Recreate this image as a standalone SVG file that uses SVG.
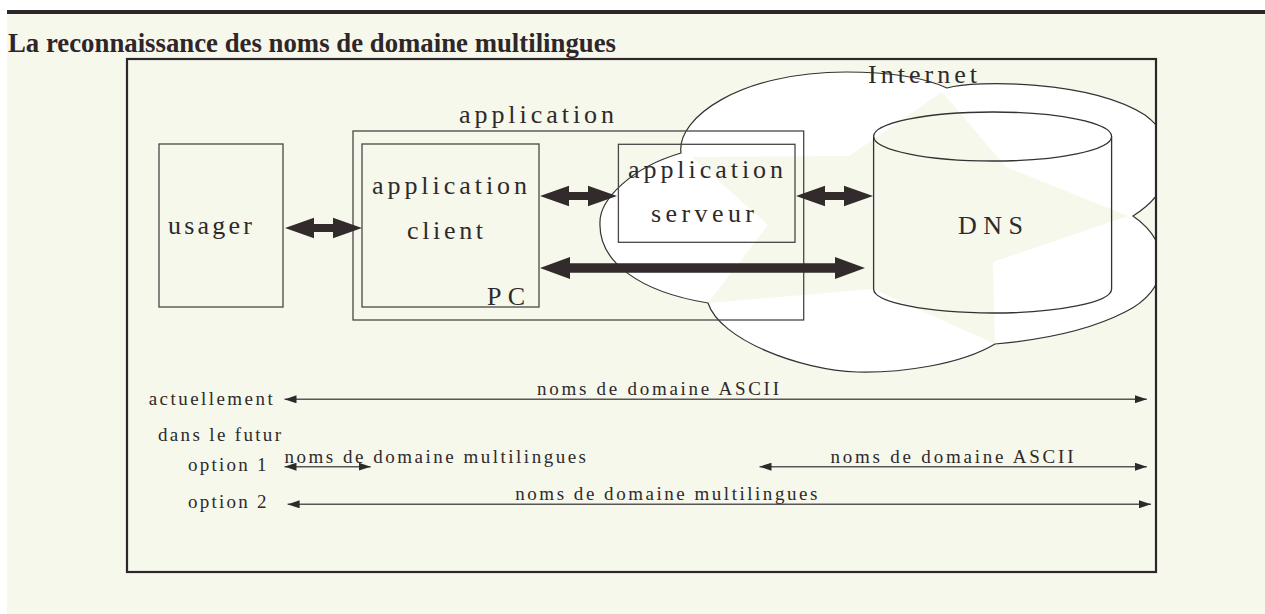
<svg xmlns="http://www.w3.org/2000/svg" width="1265" height="614" viewBox="0 0 1265 614">
<defs>
<style>
.lbl{font-family:"Liberation Serif","Times New Roman",serif;font-size:26px;fill:#2e2a2b}
.sm{font-family:"Liberation Serif","Times New Roman",serif;font-size:19px;fill:#2e2a2b}
.box{fill:none;stroke:#4a4546;stroke-width:1.3}
.thin{fill:none;stroke:#5a5556;stroke-width:1.6;marker-start:url(#ah);marker-end:url(#ah)}
.thick{fill:#332a2c}
</style>
<marker id="ah" viewBox="0 0 12 8" refX="12" refY="4" markerWidth="12" markerHeight="8" markerUnits="userSpaceOnUse" orient="auto-start-reverse">
<path d="M0,0 L12,4 L0,8 z" fill="#2e2a2b"/>
</marker>
<clipPath id="fr"><rect x="127" y="59" width="1029" height="513"/></clipPath>
</defs>
<rect x="0" y="0" width="1265" height="614" fill="#ffffff"/>
<rect x="7" y="14" width="1258" height="600" fill="#f6f8ec"/>
<rect x="7" y="10" width="1258" height="4" fill="#2e2628"/>
<text x="8" y="52" font-family="Liberation Serif, Times New Roman, serif" font-size="28" font-weight="bold" fill="#2e2628" textLength="608" lengthAdjust="spacingAndGlyphs">La reconnaissance des noms de domaine multilingues</text>

<g id="internet" clip-path="url(#fr)">
<path id="cloudfill" d="M681,153 C676,118 740,72 846,72 C890,72 925,78 947,88 C975,80 1090,80 1145,115 C1185,145 1175,190 1133,216 C1175,245 1170,290 1125,312 C1090,330 1040,340 995,344 C960,365 900,373 857,372 C800,370 720,340 708,303 C640,292 598,262 600,222 C600,200 630,168 681,153 Z" fill="#ffffff"/>
<polygon points="942,92 1006,167 1128,216 993,262 995,344 873,289 708,303 768,225 692,157 849,156" fill="#f6f8ec"/>
<path d="M681,153 C676,118 740,72 846,72 C890,72 925,78 947,88 C975,80 1090,80 1145,115 C1185,145 1175,190 1133,216 C1175,245 1170,290 1125,312 C1090,330 1040,340 995,344 C960,365 900,373 857,372 C800,370 720,340 708,303 C640,292 598,262 600,222 C600,200 630,168 681,153 Z" fill="none" stroke="#333" stroke-width="1.2"/>
<text class="lbl" x="868" y="83" textLength="109">Internet</text>
</g>

<rect x="127" y="59" width="1029" height="513" fill="none" stroke="#2e2628" stroke-width="2.2"/>

<g id="usager">
<rect class="box" x="159" y="144" width="124" height="163"/>
<text class="lbl" x="168" y="234" textLength="84">usager</text>
</g>
<g id="application">
<rect class="box" x="353" y="131" width="450.7" height="189"/>
<text class="lbl" x="459" y="123" textLength="155">application</text>
</g>
<g id="client">
<rect class="box" x="362" y="144" width="177" height="163"/>
<text class="lbl" x="372" y="194" textLength="155">application</text>
<text class="lbl" x="407" y="239" textLength="76">client</text>
<text class="lbl" x="487" y="305" textLength="38">PC</text>
</g>
<g id="serveur">
<rect class="box" x="618.4" y="144.3" width="176.6" height="98"/>
<text class="lbl" x="628" y="178" textLength="155">application</text>
<text class="lbl" x="651" y="222" textLength="103">serveur</text>
</g>
<g id="dns">
<path d="M873.6,136.5 L873.6,289 A119,24 0 0 0 1111.6,289 L1111.6,136.5" fill="none" stroke="#333" stroke-width="1.3"/>
<ellipse cx="992.6" cy="136.5" rx="119" ry="24.5" fill="none" stroke="#333" stroke-width="1.3"/>
<text class="lbl" x="958" y="234" textLength="65">DNS</text>
</g>

<g id="connectors">
<polygon class="thick" points="285,228 314,217.7 314,224 333,224 333,217.7 362,228 333,238.3 333,232 314,232 314,238.3"/>
<polygon class="thick" points="540,196 569,185.7 569,192 588,192 588,185.7 617,196 588,206.3 588,200 569,200 569,206.3"/>
<polygon class="thick" points="796,196 825,185.7 825,192 844,192 844,185.7 873,196 844,206.3 844,200 825,200 825,206.3"/>
<polygon class="thick" points="540,268 570,257 570,263.3 835,263.3 835,257 865,268 835,279 835,272.7 570,272.7 570,279"/>
<line class="thin" x1="284.5" y1="399.3" x2="1146.8" y2="399.3"/>
<line class="thin" x1="284.5" y1="466.7" x2="370.7" y2="466.7"/>
<line class="thin" x1="759.5" y1="466.7" x2="1146.8" y2="466.7"/>
<line class="thin" x1="287.6" y1="504.3" x2="1151" y2="504.3"/>
</g>

<g id="legend">
<text class="sm" x="148.7" y="405" textLength="124">actuellement</text>
<text class="sm" x="537" y="394.5" textLength="242">noms de domaine ASCII</text>
<text class="sm" x="158" y="440.7" textLength="123">dans le futur</text>
<text class="sm" x="188" y="471" textLength="78.6">option 1</text>
<text class="sm" x="284.5" y="462.7" textLength="301.5">noms de domaine multilingues</text>
<text class="sm" x="830.5" y="462.7" textLength="243">noms de domaine ASCII</text>
<text class="sm" x="188" y="508" textLength="78.6">option 2</text>
<text class="sm" x="515.3" y="500" textLength="302">noms de domaine multilingues</text>
</g>
</svg>
